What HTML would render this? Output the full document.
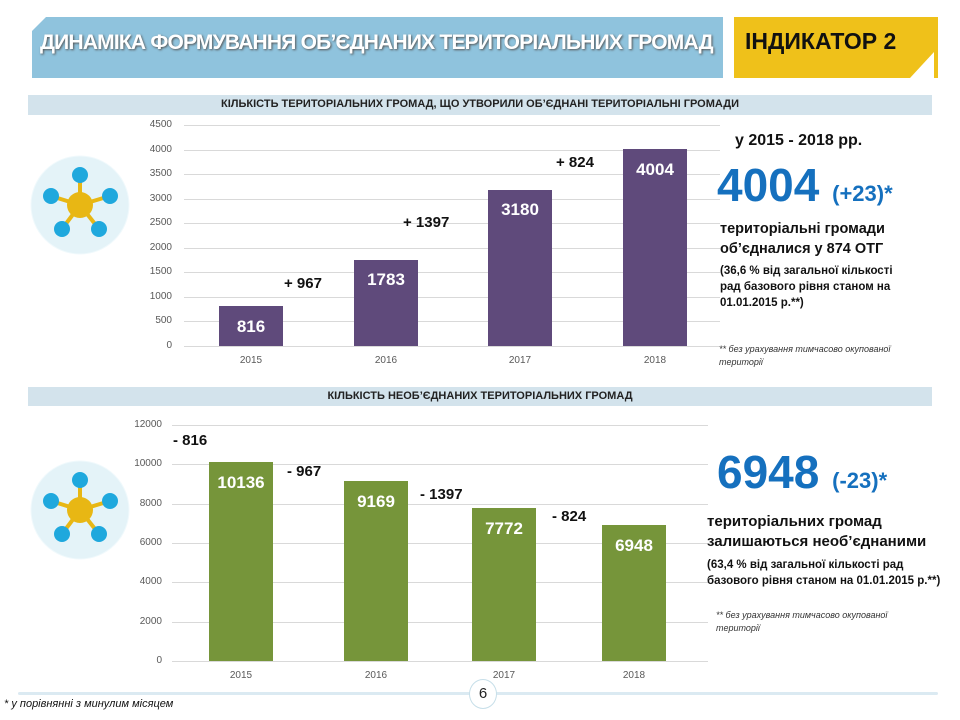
<!DOCTYPE html>
<html><head><meta charset="utf-8"><style>
body{margin:0;width:960px;height:720px;background:#fff;position:relative;overflow:hidden;font-family:"Liberation Sans",sans-serif}
.a{position:absolute}
.yl{position:absolute;font-size:10px;color:#595959;text-align:right;width:40px}
.xl{position:absolute;font-size:10px;color:#595959;width:60px;text-align:center}
.g{position:absolute;height:1px;background:#d9d9d9}
.bar{position:absolute}
.bv{position:absolute;color:#fff;font-weight:bold;font-size:17px;width:64px;text-align:center}
.d{position:absolute;font-weight:bold;font-size:15px;color:#111}
</style></head><body>
<div class="a" style="left:32px;top:17px;width:691px;height:61px;background:#8fc3dd"></div>
<div class="a" style="left:32px;top:17px;width:0;height:0;border-top:14px solid #fff;border-right:14px solid transparent"></div>
<div class="a" style="left:40px;top:31px;font-size:21px;font-weight:bold;color:#fff;letter-spacing:-0.8px;text-shadow:1px 1px 2px #555;white-space:nowrap">ДИНАМІКА ФОРМУВАННЯ ОБ’ЄДНАНИХ ТЕРИТОРІАЛЬНИХ ГРОМАД</div>
<div class="a" style="left:734px;top:17px;width:204px;height:61px;background:#efc11a"></div>
<div class="a" style="left:910px;top:52px;width:0;height:0;border-bottom:26px solid #fff;border-left:24px solid transparent"></div>
<div class="a" style="left:745px;top:28px;font-size:23px;font-weight:bold;color:#111">ІНДИКАТОР 2</div>

<div class="a" style="left:28px;top:95px;width:904px;height:20px;background:#d3e3ec"></div>
<div class="a" style="left:28px;top:98px;width:904px;text-align:center;font-size:11px;font-weight:bold;color:#222">КІЛЬКІСТЬ ТЕРИТОРІАЛЬНИХ ГРОМАД, ЩО УТВОРИЛИ ОБ’ЄДНАНІ ТЕРИТОРІАЛЬНІ ГРОМАДИ</div>
<div class="a" style="left:28px;top:387px;width:904px;height:19px;background:#d3e3ec"></div>
<div class="a" style="left:28px;top:390px;width:904px;text-align:center;font-size:11px;font-weight:bold;color:#222">КІЛЬКІСТЬ НЕОБ’ЄДНАНИХ ТЕРИТОРІАЛЬНИХ ГРОМАД</div>

<svg class="a" style="left:30px;top:155px" width="100" height="100" viewBox="0 0 100 100">
<circle cx="50" cy="50" r="49" fill="#e4f3f8" stroke="#f0f9fc"/>
<g stroke="#e8b714" stroke-width="4"><line x1="50" y1="50" x2="50" y2="20"/><line x1="50" y1="50" x2="21" y2="41"/><line x1="50" y1="50" x2="80" y2="41"/><line x1="50" y1="50" x2="32" y2="74"/><line x1="50" y1="50" x2="69" y2="74"/></g>
<circle cx="50" cy="50" r="13" fill="#e8b714"/>
<g fill="#1fa8dd"><circle cx="50" cy="20" r="8"/><circle cx="21" cy="41" r="8"/><circle cx="80" cy="41" r="8"/><circle cx="32" cy="74" r="8"/><circle cx="69" cy="74" r="8"/></g>
</svg>
<svg class="a" style="left:30px;top:460px" width="100" height="100" viewBox="0 0 100 100">
<circle cx="50" cy="50" r="49" fill="#e4f3f8" stroke="#f0f9fc"/>
<g stroke="#e8b714" stroke-width="4"><line x1="50" y1="50" x2="50" y2="20"/><line x1="50" y1="50" x2="21" y2="41"/><line x1="50" y1="50" x2="80" y2="41"/><line x1="50" y1="50" x2="32" y2="74"/><line x1="50" y1="50" x2="69" y2="74"/></g>
<circle cx="50" cy="50" r="13" fill="#e8b714"/>
<g fill="#1fa8dd"><circle cx="50" cy="20" r="8"/><circle cx="21" cy="41" r="8"/><circle cx="80" cy="41" r="8"/><circle cx="32" cy="74" r="8"/><circle cx="69" cy="74" r="8"/></g>
</svg>

<!-- chart 1 -->
<div class="g" style="left:184px;width:536px;top:125px"></div><div class="yl" style="left:132px;top:119px">4500</div>
<div class="g" style="left:184px;width:536px;top:150px"></div><div class="yl" style="left:132px;top:144px">4000</div>
<div class="g" style="left:184px;width:536px;top:174px"></div><div class="yl" style="left:132px;top:168px">3500</div>
<div class="g" style="left:184px;width:536px;top:199px"></div><div class="yl" style="left:132px;top:193px">3000</div>
<div class="g" style="left:184px;width:536px;top:223px"></div><div class="yl" style="left:132px;top:217px">2500</div>
<div class="g" style="left:184px;width:536px;top:248px"></div><div class="yl" style="left:132px;top:242px">2000</div>
<div class="g" style="left:184px;width:536px;top:272px"></div><div class="yl" style="left:132px;top:266px">1500</div>
<div class="g" style="left:184px;width:536px;top:297px"></div><div class="yl" style="left:132px;top:291px">1000</div>
<div class="g" style="left:184px;width:536px;top:321px"></div><div class="yl" style="left:132px;top:315px">500</div>
<div class="g" style="left:184px;width:536px;top:346px"></div><div class="yl" style="left:132px;top:340px">0</div>
<div class="bar" style="left:219px;top:306px;width:64px;height:40px;background:#5f4a7b"></div><div class="bv" style="left:219px;top:317px">816</div>
<div class="bar" style="left:354px;top:260px;width:64px;height:86px;background:#5f4a7b"></div><div class="bv" style="left:354px;top:270px">1783</div>
<div class="bar" style="left:488px;top:190px;width:64px;height:156px;background:#5f4a7b"></div><div class="bv" style="left:488px;top:200px">3180</div>
<div class="bar" style="left:623px;top:149px;width:64px;height:197px;background:#5f4a7b"></div><div class="bv" style="left:623px;top:160px">4004</div>
<div class="xl" style="left:221px;top:355px">2015</div><div class="xl" style="left:356px;top:355px">2016</div><div class="xl" style="left:490px;top:355px">2017</div><div class="xl" style="left:625px;top:355px">2018</div>
<div class="d" style="left:284px;top:275px">+ 967</div>
<div class="d" style="left:403px;top:214px">+ 1397</div>
<div class="d" style="left:556px;top:154px">+ 824</div>

<div class="a" style="left:735px;top:132px;font-size:16px;font-weight:bold;color:#111">у 2015 - 2018 рр.</div>
<div class="a" style="left:717px;top:158px;font-size:46px;font-weight:bold;color:#1570be;white-space:nowrap">4004 <span style="font-size:22px">(+23)*</span></div>
<div class="a" style="left:720px;top:219px;font-size:14.5px;font-weight:bold;color:#111;line-height:20px">територіальні громади<br>об’єдналися у 874 ОТГ</div>
<div class="a" style="left:720px;top:263px;font-size:11.5px;font-weight:bold;color:#111;line-height:16px">(36,6 % від загальної кількості<br>рад базового рівня станом на<br>01.01.2015 р.**)</div>
<div class="a" style="left:719px;top:343px;font-size:9px;font-style:italic;color:#333;line-height:13px">** без урахування тимчасово окупованої<br>території</div>

<!-- chart 2 -->
<div class="g" style="left:172px;width:536px;top:425px"></div><div class="yl" style="left:122px;top:419px">12000</div>
<div class="g" style="left:172px;width:536px;top:464px"></div><div class="yl" style="left:122px;top:458px">10000</div>
<div class="g" style="left:172px;width:536px;top:504px"></div><div class="yl" style="left:122px;top:498px">8000</div>
<div class="g" style="left:172px;width:536px;top:543px"></div><div class="yl" style="left:122px;top:537px">6000</div>
<div class="g" style="left:172px;width:536px;top:582px"></div><div class="yl" style="left:122px;top:576px">4000</div>
<div class="g" style="left:172px;width:536px;top:622px"></div><div class="yl" style="left:122px;top:616px">2000</div>
<div class="g" style="left:172px;width:536px;top:661px"></div><div class="yl" style="left:122px;top:655px">0</div>
<div class="bar" style="left:209px;top:462px;width:64px;height:199px;background:#76953a"></div><div class="bv" style="left:209px;top:473px">10136</div>
<div class="bar" style="left:344px;top:481px;width:64px;height:180px;background:#76953a"></div><div class="bv" style="left:344px;top:492px">9169</div>
<div class="bar" style="left:472px;top:508px;width:64px;height:153px;background:#76953a"></div><div class="bv" style="left:472px;top:519px">7772</div>
<div class="bar" style="left:602px;top:525px;width:64px;height:136px;background:#76953a"></div><div class="bv" style="left:602px;top:536px">6948</div>
<div class="xl" style="left:211px;top:670px">2015</div><div class="xl" style="left:346px;top:670px">2016</div><div class="xl" style="left:474px;top:670px">2017</div><div class="xl" style="left:604px;top:670px">2018</div>
<div class="d" style="left:173px;top:432px">- 816</div>
<div class="d" style="left:287px;top:463px">- 967</div>
<div class="d" style="left:420px;top:486px">- 1397</div>
<div class="d" style="left:552px;top:508px">- 824</div>

<div class="a" style="left:717px;top:445px;font-size:46px;font-weight:bold;color:#1570be;white-space:nowrap">6948 <span style="font-size:22px">(-23)*</span></div>
<div class="a" style="left:707px;top:512px;font-size:15px;font-weight:bold;color:#111;line-height:20px">територіальних громад<br>залишаються необ’єднаними</div>
<div class="a" style="left:707px;top:557px;font-size:11.5px;font-weight:bold;color:#111;line-height:16px;white-space:nowrap">(63,4 % від загальної кількості рад<br>базового рівня станом на 01.01.2015 р.**)</div>
<div class="a" style="left:716px;top:609px;font-size:9px;font-style:italic;color:#333;line-height:13px">** без урахування тимчасово окупованої<br>території</div>

<div class="a" style="left:18px;top:692px;width:920px;height:3px;background:#dbeaf2;border-radius:2px"></div>
<div class="a" style="left:469px;top:679px;width:26px;height:28px;border:1px solid #c7dfe9;border-radius:50%;background:#fff;text-align:center;font-size:15px;line-height:28px;color:#222">6</div>
<div class="a" style="left:4px;top:698px;font-size:11px;font-style:italic;color:#111">* у порівнянні з минулим місяцем</div>
</body></html>
